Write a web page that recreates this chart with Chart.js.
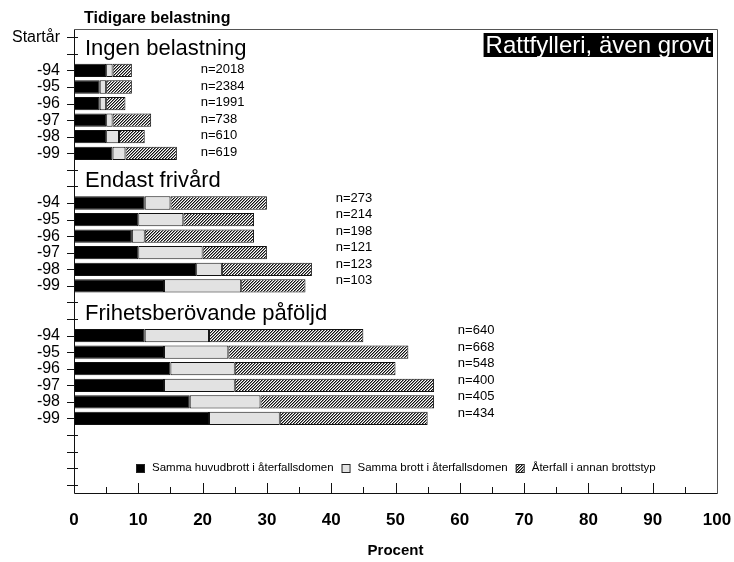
<!DOCTYPE html>
<html>
<head>
<meta charset="utf-8">
<script src="https://cdn.jsdelivr.net/npm/chart.js@4.4.1/dist/chart.umd.min.js"></script>
<style>
  body { margin: 0; background: #fff; }
  #wrap { width: 734px; height: 562px; }
</style>
</head>
<body>
<div id="wrap"><canvas id="recidiv-chart" width="734" height="562"></canvas></div>
<script>
// y axis rows, top to bottom (empty rows hold group headers, spacing and legend)
var yLabels = ['Startår', '',
    '-94', '-95', '-96', '-97', '-98', '-99', '', '',
    '-94', '-95', '-96', '-97', '-98', '-99', '', '',
    '-94', '-95', '-96', '-97', '-98', '-99', '', '', '', ''];
var groups = ['Ingen belastning', 'Endast frivård', 'Frihetsberövande påföljd'];
var groupStartRow = [2, 10, 18];

// percent per year, six years per group
var sammaHuvudbrott = [5, 4, 4, 5, 5, 6, 11, 10, 9, 10, 19, 14, 11, 14, 15, 14, 18, 21];
var sammaBrott = [1, 1, 1, 1, 2, 2, 4, 7, 2, 10, 4, 12, 10, 10, 10, 11, 11, 11];
var annanBrottstyp = [3, 4, 3, 6, 4, 8, 15, 11, 17, 10, 14, 10, 24, 28, 25, 31, 27, 23];
var nValues = [2018, 2384, 1991, 738, 610, 619, 273, 214, 198, 121, 123, 103, 640, 668, 548, 400, 405, 434];

var seriesLabels = ['Samma huvudbrott i återfallsdomen', 'Samma brott i återfallsdomen', 'Återfall i annan brottstyp'];

Chart.defaults.font.family = '"Liberation Sans", Arial, Helvetica, sans-serif';
Chart.defaults.color = '#000';

function toRows(values) {
    var rows = yLabels.map(function () { return null; });
    for (var i = 0; i < values.length; i++) {
        var g = Math.floor(i / 6);
        rows[groupStartRow[g] + i % 6] = values[i];
    }
    return rows;
}

function hatchPattern() {
    var c = document.createElement('canvas');
    c.width = 3;
    c.height = 3;
    var p = c.getContext('2d');
    p.fillStyle = '#fff';
    p.fillRect(0, 0, 3, 3);
    for (var r = 0; r < 3; r++) {
        p.fillStyle = '#111';
        p.fillRect((2 - r + 3) % 3, r, 1, 1);
        p.fillStyle = '#888';
        p.fillRect((3 - r + 3) % 3, r, 1, 1);
    }
    return p.createPattern(c, 'repeat');
}

var overlay = {
    id: 'overlay',
    beforeDatasetsDraw: function (chart) {
        var ctx = chart.ctx, a = chart.chartArea, x = chart.scales.x, y = chart.scales.y;
        ctx.save();
        ctx.strokeStyle = '#111';
        ctx.lineWidth = 1;
        ctx.beginPath();
        for (var i = 0; i < yLabels.length; i++) {
            var py = Math.round(y.getPixelForValue(i)) + 0.5;
            ctx.moveTo(a.left - 7, py);
            ctx.lineTo(a.left + 4, py);
        }
        for (var v = 5; v < 100; v += 5) {
            var px = Math.round(x.getPixelForValue(v)) + 0.5;
            ctx.moveTo(px, a.bottom);
            ctx.lineTo(px, a.bottom - (v % 10 ? 6 : 10));
        }
        ctx.stroke();
        ctx.restore();
    },
    afterDraw: function (chart) {
        var ctx = chart.ctx, a = chart.chartArea, x = chart.scales.x, y = chart.scales.y;
        ctx.save();

        // frame
        ctx.strokeStyle = '#555';
        ctx.lineWidth = 1;
        ctx.beginPath();
        ctx.moveTo(Math.round(a.left) + 0.5, Math.round(a.top) + 0.5);
        ctx.lineTo(Math.round(a.right) + 0.5, Math.round(a.top) + 0.5);
        ctx.lineTo(Math.round(a.right) + 0.5, Math.round(a.bottom) + 0.5);
        ctx.stroke();
        ctx.strokeStyle = '#111';
        ctx.beginPath();
        ctx.moveTo(Math.round(a.left) + 0.5, Math.round(a.top) + 0.5);
        ctx.lineTo(Math.round(a.left) + 0.5, Math.round(a.bottom) + 0.5);
        ctx.lineTo(Math.round(a.right) + 0.5, Math.round(a.bottom) + 0.5);
        ctx.stroke();

        // title above the axis
        ctx.fillStyle = '#000';
        ctx.textAlign = 'left';
        ctx.textBaseline = 'alphabetic';
        ctx.font = 'bold 16px "Liberation Sans", Arial, sans-serif';
        ctx.fillText('Tidigare belastning', 84, 23);

        // crime type box
        ctx.font = '24px "Liberation Sans", Arial, sans-serif';
        var label = 'Rattfylleri, även grovt';
        var w = ctx.measureText(label).width;
        var bx = a.right - 4 - w - 4;
        ctx.fillStyle = '#000';
        ctx.fillRect(bx, 33, w + 4, 24);
        ctx.fillStyle = '#fff';
        ctx.fillText(label, bx + 2, 53);

        // group headers and n labels
        var nDy = [-1, -5, -5];
        for (var g = 0; g < groups.length; g++) {
            ctx.fillStyle = '#000';
            ctx.textBaseline = 'alphabetic';
            ctx.font = '22px "Liberation Sans", Arial, sans-serif';
            ctx.fillText(groups[g], a.left + 11, y.getPixelForValue(groupStartRow[g] - 1) + 1);

            var groupMax = 0;
            for (var i = 0; i < 6; i++) {
                var k = g * 6 + i;
                groupMax = Math.max(groupMax, sammaHuvudbrott[k] + sammaBrott[k] + annanBrottstyp[k]);
            }
            var nx = x.getPixelForValue(groupMax + 3.7);
            ctx.font = '13px "Liberation Sans", Arial, sans-serif';
            ctx.textBaseline = 'middle';
            for (var j = 0; j < 6; j++) {
                ctx.fillText('n=' + nValues[g * 6 + j], nx, y.getPixelForValue(groupStartRow[g] + j) + nDy[g]);
            }
        }

        // legend inside the plot
        ctx.font = '11.5px "Liberation Sans", Arial, sans-serif';
        ctx.textBaseline = 'middle';
        var ds = chart.data.datasets;
        var total = 0;
        ds.forEach(function (d, i) {
            total += 16 + ctx.measureText(d.label).width + (i < ds.length - 1 ? 8 : 0);
        });
        var lx = Math.round((a.left + a.right) / 2 - total / 2);
        var ly = Math.round(y.getPixelForValue(26));
        ds.forEach(function (d) {
            ctx.fillStyle = d.backgroundColor;
            ctx.fillRect(lx, ly - 4, 8, 8);
            ctx.strokeStyle = '#222';
            ctx.strokeRect(lx + 0.5, ly - 3.5, 8, 8);
            ctx.fillStyle = '#000';
            ctx.fillText(d.label, lx + 16, ly);
            lx += 16 + ctx.measureText(d.label).width + 8;
        });
        ctx.restore();
    }
};

var barStyle = { borderColor: '#111', borderWidth: 1, borderSkipped: false, categoryPercentage: 1, barPercentage: 0.8 };

var chartData = {
    labels: yLabels,
    datasets: [
        Object.assign({ label: seriesLabels[0], data: toRows(sammaHuvudbrott), backgroundColor: '#000' }, barStyle),
        Object.assign({ label: seriesLabels[1], data: toRows(sammaBrott), backgroundColor: '#e2e2e2' }, barStyle),
        Object.assign({ label: seriesLabels[2], data: toRows(annanBrottstyp), backgroundColor: hatchPattern() }, barStyle)
    ]
};

var ctx = document.getElementById('recidiv-chart');
var recidivChart = new Chart(ctx, {
    type: 'bar',
    data: chartData,
    plugins: [overlay],
    options: {
        indexAxis: 'y',
        responsive: false,
        animation: false,
        layout: { padding: { top: 29, right: 17, left: 0, bottom: 0 } },
        plugins: { legend: { display: false }, tooltip: { enabled: false } },
        scales: {
            x: {
                stacked: true,
                min: 0,
                max: 100,
                grid: { display: false, drawTicks: false },
                border: { display: false },
                ticks: { stepSize: 10, padding: 17, font: { size: 17, weight: 'bold' } },
                title: { display: true, text: 'Procent', font: { size: 15, weight: 'bold' }, padding: { top: 0, bottom: 2 } },
                afterFit: function (scale) {
                    scale.height = 69;
                    scale.paddingLeft = 0;
                    scale.paddingRight = 0;
                }
            },
            y: {
                stacked: true,
                grid: { display: false, drawTicks: false },
                border: { display: false },
                ticks: { autoSkip: false, padding: 14, font: { size: 16 } },
                afterFit: function (scale) {
                    scale.width = 74;
                    scale.paddingTop = 0;
                    scale.paddingBottom = 0;
                }
            }
        }
    }
});
</script>
</body>
</html>
